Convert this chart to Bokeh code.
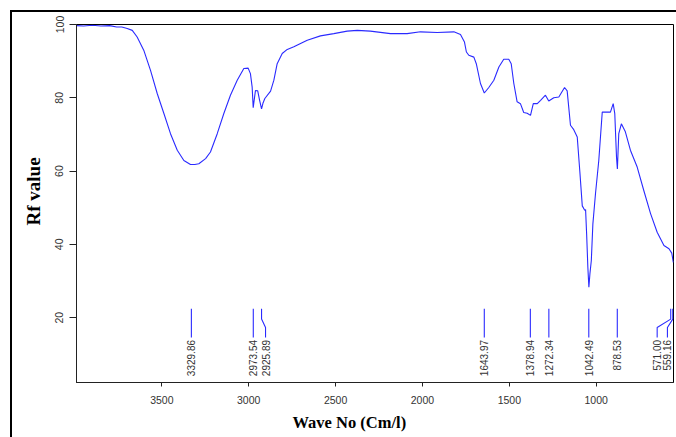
import math
from bokeh.plotting import figure
from bokeh.models import Range1d, FixedTicker, ColumnDataSource, Title
from bokeh.core.properties import value
from bokeh.embed import file_html
from bokeh.resources import INLINE

# ---- spectrum (wavenumber, Rf value) ----
wavenumber = [3991, 3950, 3900, 3850, 3800, 3760, 3730, 3699, 3670, 3642, 3604, 3565,
              3526, 3488, 3450, 3411, 3373, 3335, 3310, 3287, 3248, 3220, 3181, 3143,
              3105, 3066, 3028, 3003, 2990, 2980, 2974, 2968, 2961, 2948, 2938, 2926,
              2918, 2907, 2874, 2855, 2836, 2807, 2778, 2740, 2663, 2587, 2510, 2433,
              2375, 2300, 2184, 2088, 2011, 1915, 1819, 1781, 1758, 1747, 1733, 1704,
              1690, 1666, 1644, 1618, 1589, 1560, 1532, 1503, 1489, 1474, 1455, 1436,
              1417, 1397, 1378, 1362, 1339, 1320, 1292, 1273, 1244, 1215, 1182, 1167,
              1148, 1129, 1109, 1094, 1080, 1066, 1061, 1055, 1048, 1042, 1036, 1028,
              1019, 1004, 985, 965, 937, 918, 902, 893, 883, 878, 870, 855, 832, 803,
              764, 726, 687, 649, 610, 581, 565, 556, 555]
rf_value = [99.7, 99.6, 99.8, 99.6, 99.7, 99.3, 99.3, 98.9, 98.4, 96.6, 93.0, 87.5,
            81.1, 75.7, 70.2, 65.7, 62.9, 61.8, 61.8, 62.0, 63.4, 65.2, 70.2, 75.7,
            80.7, 84.8, 88.0, 88.1, 86.6, 82.9, 77.3, 79.5, 82.0, 81.9, 79.5, 77.0,
            78.5, 79.8, 81.8, 84.8, 89.3, 92.1, 93.2, 93.9, 95.7, 96.9, 97.5, 98.2,
            98.4, 98.2, 97.5, 97.5, 98.0, 97.8, 98.0, 97.3, 95.2, 92.5, 91.6, 91.1,
            89.3, 83.9, 81.3, 82.8, 84.8, 88.4, 90.5, 90.5, 89.3, 83.9, 78.9, 78.4,
            76.0, 75.8, 75.2, 78.4, 78.4, 79.3, 80.7, 79.1, 80.0, 80.2, 82.8, 81.9,
            72.5, 71.3, 69.3, 59.8, 50.5, 49.3, 49.5, 42.9, 33.8, 28.3, 32.0, 35.6,
            45.6, 53.8, 62.9, 76.1, 76.1, 76.1, 78.4, 75.7, 63.8, 60.6, 70.2, 72.9,
            70.7, 65.7, 61.1, 54.7, 48.4, 43.3, 39.7, 38.8, 37.6, 35.1, 35.5]

# ---- peak annotations ----
peak_wn = [3329.86, 2973.54, 2925.89, 1643.97, 1378.94, 1272.34, 1042.49, 878.53, 571.00, 559.16]
peak_label_pos = [3329.86, 2973.54, 2903, 1643.97, 1378.94, 1272.34, 1042.49, 878.53, 649, 590]
peak_labels = ["3329.86", "2973.54", "2925.89", "1643.97", "1378.94", "1272.34",
               "1042.49", "878.53", "571.00", "559.16"]
marker_levels = [22.4, 19.6, 17.3, 14.6]
label_level = 13.9

x_ticks = [3500, 3000, 2500, 2000, 1500, 1000]
y_ticks = [20, 40, 60, 80, 100]

p = figure(width=676, height=437, output_backend="svg", toolbar_location=None,
           x_range=Range1d(3991, 555), y_range=Range1d(2.3, 100),
           min_border_left=76, min_border_right=3, min_border_top=24, min_border_bottom=55)
# thick outer frame (top and left edges) painted behind a transparent canvas border
p.border_fill_alpha = 0
p.styles = {
    "background-color": "white",
    "background-image": "linear-gradient(black, black), linear-gradient(black, black)",
    "background-size": "2px 100%, 100% 2px",
    "background-position": "10px 10px, 10px 10px",
    "background-repeat": "no-repeat",
}

p.xgrid.visible = False
p.ygrid.visible = False
p.outline_line_color = "black"
p.outline_line_width = 1

p.line(wavenumber, rf_value, line_color="#2a2aff", line_width=1.1)

xs = [[pw, pw, lp, lp] for pw, lp in zip(peak_wn, peak_label_pos)]
ys = [marker_levels for _ in peak_wn]
p.multi_line(xs, ys, line_color="#2a2aff", line_width=1.1)

src = ColumnDataSource(dict(x=peak_label_pos, y=[label_level] * len(peak_labels), t=peak_labels))
p.text(x="x", y="y", text="t", source=src, angle=math.pi / 2, text_align="right",
       text_baseline="middle", text_font=value("Liberation Sans"), text_font_size="10px",
       text_color="#333333")

for ax in (p.xaxis[0], p.yaxis[0]):
    ax.axis_line_color = "#222222"
    ax.major_tick_line_color = "#222222"
    ax.minor_tick_line_color = None
    ax.major_tick_in = 0
    ax.major_label_text_font = "Liberation Sans"
    ax.major_label_text_font_size = "10.5px"
    ax.major_label_text_color = "#333333"

p.xaxis.ticker = FixedTicker(ticks=x_ticks)
p.yaxis.ticker = FixedTicker(ticks=y_ticks)
p.xaxis.major_tick_out = 4
p.yaxis.major_tick_out = 7
p.xaxis.major_label_standoff = 9
p.yaxis.major_label_standoff = 6
p.yaxis.major_label_orientation = "vertical"

p.add_layout(Title(text="Rf value", align="left", offset=157, standoff=18,
                   text_font="Liberation Serif", text_font_style="bold",
                   text_font_size="19px", text_color="black"), "left")
p.add_layout(Title(text="Wave No (Cm/l)", align="left", offset=216, standoff=9,
                   text_font="Liberation Serif", text_font_style="bold",
                   text_font_size="16.5px", text_color="black"), "below")

open("out.html", "w").write(file_html(p, INLINE))
